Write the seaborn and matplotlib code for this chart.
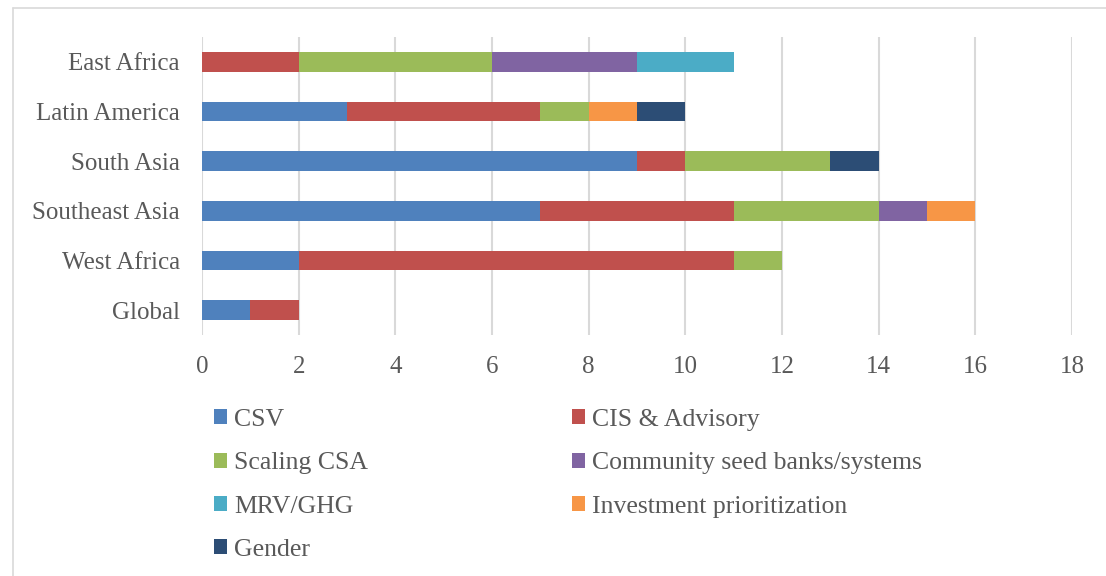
import matplotlib
matplotlib.use("Agg")
import matplotlib.pyplot as plt
from matplotlib.patches import Patch
from matplotlib.lines import Line2D
import numpy as np
import pandas as pd
import seaborn as sns

# Regions, top to bottom
regions = ["East Africa", "Latin America", "South Asia", "Southeast Asia", "West Africa", "Global"]

# Number of activities per theme in each region
csv_vals = [0, 3, 9, 7, 2, 1]
cis_vals = [2, 4, 1, 4, 9, 1]
scaling_vals = [4, 1, 3, 3, 1, 0]
seedbank_vals = [3, 0, 0, 1, 0, 0]
mrv_vals = [2, 0, 0, 0, 0, 0]
invest_vals = [0, 1, 0, 1, 0, 0]
gender_vals = [0, 1, 1, 0, 0, 0]

series_names = ["CSV", "CIS & Advisory", "Scaling CSA", "Community seed banks/systems",
                "MRV/GHG", "Investment prioritization", "Gender"]
series_vals = [csv_vals, cis_vals, scaling_vals, seedbank_vals, mrv_vals, invest_vals, gender_vals]
series_colors = ["#4F81BD", "#C0504D", "#9BBB59", "#8064A2", "#4BACC6", "#F79646", "#2C4D75"]

text_color = "#595959"
grid_color = "#D9D9D9"
tick_size = 18
legend_size = 18.5

sns.set_theme(style="white")
plt.rcParams["font.family"] = ["Liberation Serif", "DejaVu Serif"]
plt.rcParams["text.color"] = text_color

W, H, DPI = 1106, 576, 100
fig = plt.figure(figsize=(W / DPI, H / DPI), dpi=DPI)
fig.patch.set_facecolor("white")

# plot area in pixel coordinates
left_px, right_px, top_px, bottom_px = 202, 1072, 37, 335
ax = fig.add_axes([left_px / W, 1 - bottom_px / H,
                   (right_px - left_px) / W, (bottom_px - top_px) / H])

# stacked bars: cumulative totals drawn widest first so each segment shows its own share
cum = np.cumsum(np.array(series_vals), axis=0)
for i in range(len(series_names) - 1, -1, -1):
    df = pd.DataFrame({"region": regions, "total": cum[i]})
    sns.barplot(data=df, x="total", y="region", order=regions, orient="h",
                color=series_colors[i], saturation=1, width=0.4,
                linewidth=0, ax=ax, zorder=3)

ax.set_xlim(0, 18)
ax.set_ylim(len(regions) - 0.5, -0.5)
ax.set_xticks(np.arange(0, 19, 2))
ax.set_xlabel("")
ax.set_ylabel("")
ax.grid(axis="x", color=grid_color, linewidth=1.5, zorder=0)
ax.grid(axis="y", visible=False)
ax.set_axisbelow(True)
for s in ax.spines.values():
    s.set_visible(False)
ax.tick_params(axis="x", length=0, pad=15, labelsize=tick_size, labelcolor=text_color)
ax.tick_params(axis="y", length=0, pad=16, labelsize=tick_size, labelcolor=text_color)

# legend in two columns, read row by row
left_items = [0, 2, 4, 6]
right_items = [1, 3, 5]

def make_legend(items, x_px):
    handles = [Patch(facecolor=series_colors[k], edgecolor="none") for k in items]
    labels = [series_names[k] for k in items]
    fig.legend(handles, labels, loc="upper left",
               bbox_to_anchor=(x_px / W, 1 - 409 / H), bbox_transform=fig.transFigure,
               frameon=False, fontsize=legend_size, labelcolor=text_color,
               handlelength=0.52, handleheight=0.52, handletextpad=0.25,
               labelspacing=0.83, borderpad=0, borderaxespad=0)

make_legend(left_items, 214)
make_legend(right_items, 572)

# chart area outline
fig.add_artist(Line2D([13 / W, 13 / W], [0, 1 - 8 / H], transform=fig.transFigure,
                      color=grid_color, linewidth=1.2))
fig.add_artist(Line2D([13 / W, 1], [1 - 8 / H, 1 - 8 / H], transform=fig.transFigure,
                      color=grid_color, linewidth=1.2))

fig.savefig("out.png", dpi=DPI)
